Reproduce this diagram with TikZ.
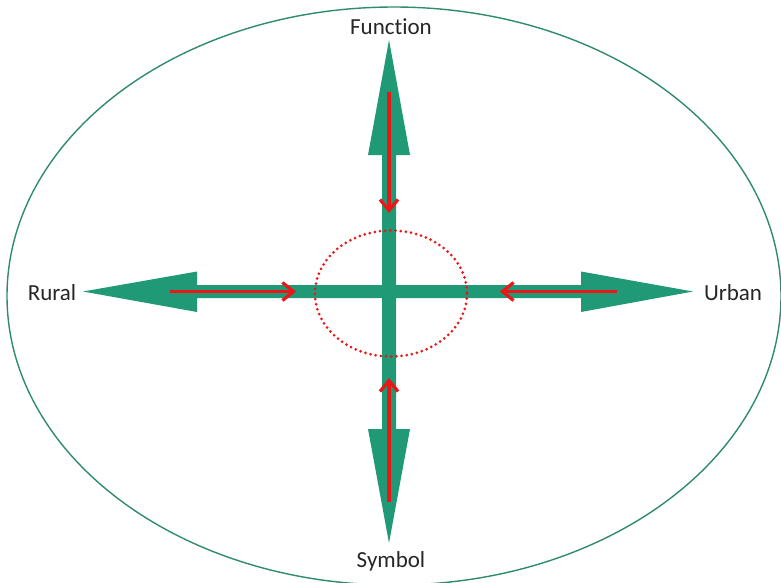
\documentclass[tikz,border=0pt]{standalone}
\usepackage{fontspec}
\setmainfont{Carlito}[Ligatures=NoCommon]
\usetikzlibrary{arrows.meta}
\definecolor{arrowgreen}{RGB}{31,153,118}
\definecolor{ringgreen}{RGB}{46,139,110}
\definecolor{flowred}{RGB}{236,22,22}
\begin{document}
\begin{tikzpicture}[x=1pt,y=-1pt,
  lbl/.style={font=\fontsize{23}{27}\selectfont, text=black!85, inner sep=0pt},
  bigarrow/.style={fill=arrowgreen},
  flow/.style={draw=flowred, line width=3.2pt, -{Straight Barb[length=11pt,width=18pt]}}]
\useasboundingbox (0,0) rectangle (781,582);
\draw[ringgreen, line width=1.4pt] (394,296) ellipse [x radius=387, y radius=289];
% horizontal double arrow
\fill[bigarrow] (83,291.5) -- (197,271.5) -- (197,285) -- (581,285) -- (581,271.5) -- (693,291.5)
  -- (581,312) -- (581,298) -- (197,298) -- (197,312) -- cycle;
% vertical double arrow
\fill[bigarrow] (389,40) -- (410,155) -- (396,155) -- (396,429) -- (410,429) -- (389,543)
  -- (368,429) -- (382,429) -- (382,155) -- (368,155) -- cycle;
% dotted ellipse
\draw[flowred, line width=3pt, line cap=round, dash pattern=on 0pt off 5.2pt] (391,293.5) ellipse [x radius=76, y radius=63];
% flow coordinates
\coordinate (t1) at (389,92);  \coordinate (t2) at (389,213);
\coordinate (b1) at (389,502); \coordinate (b2) at (389,378);
\coordinate (l1) at (170,291.5); \coordinate (l2) at (296,291.5);
\coordinate (r1) at (617,291.5); \coordinate (r2) at (500,291.5);
\draw[flow] (t1) -- (t2);
\draw[flow] (b1) -- (b2);
\draw[flow] (l1) -- (l2);
\draw[flow] (r1) -- (r2);
% labels
\node[lbl] (function) at (391,27) {Function};
\node[lbl] (symbol) at (391,561) {Symbol};
\node[lbl] (rural) at (52,293) {Rural};
\node[lbl] (urban) at (733,293) {Urban};
\end{tikzpicture}
\end{document}
